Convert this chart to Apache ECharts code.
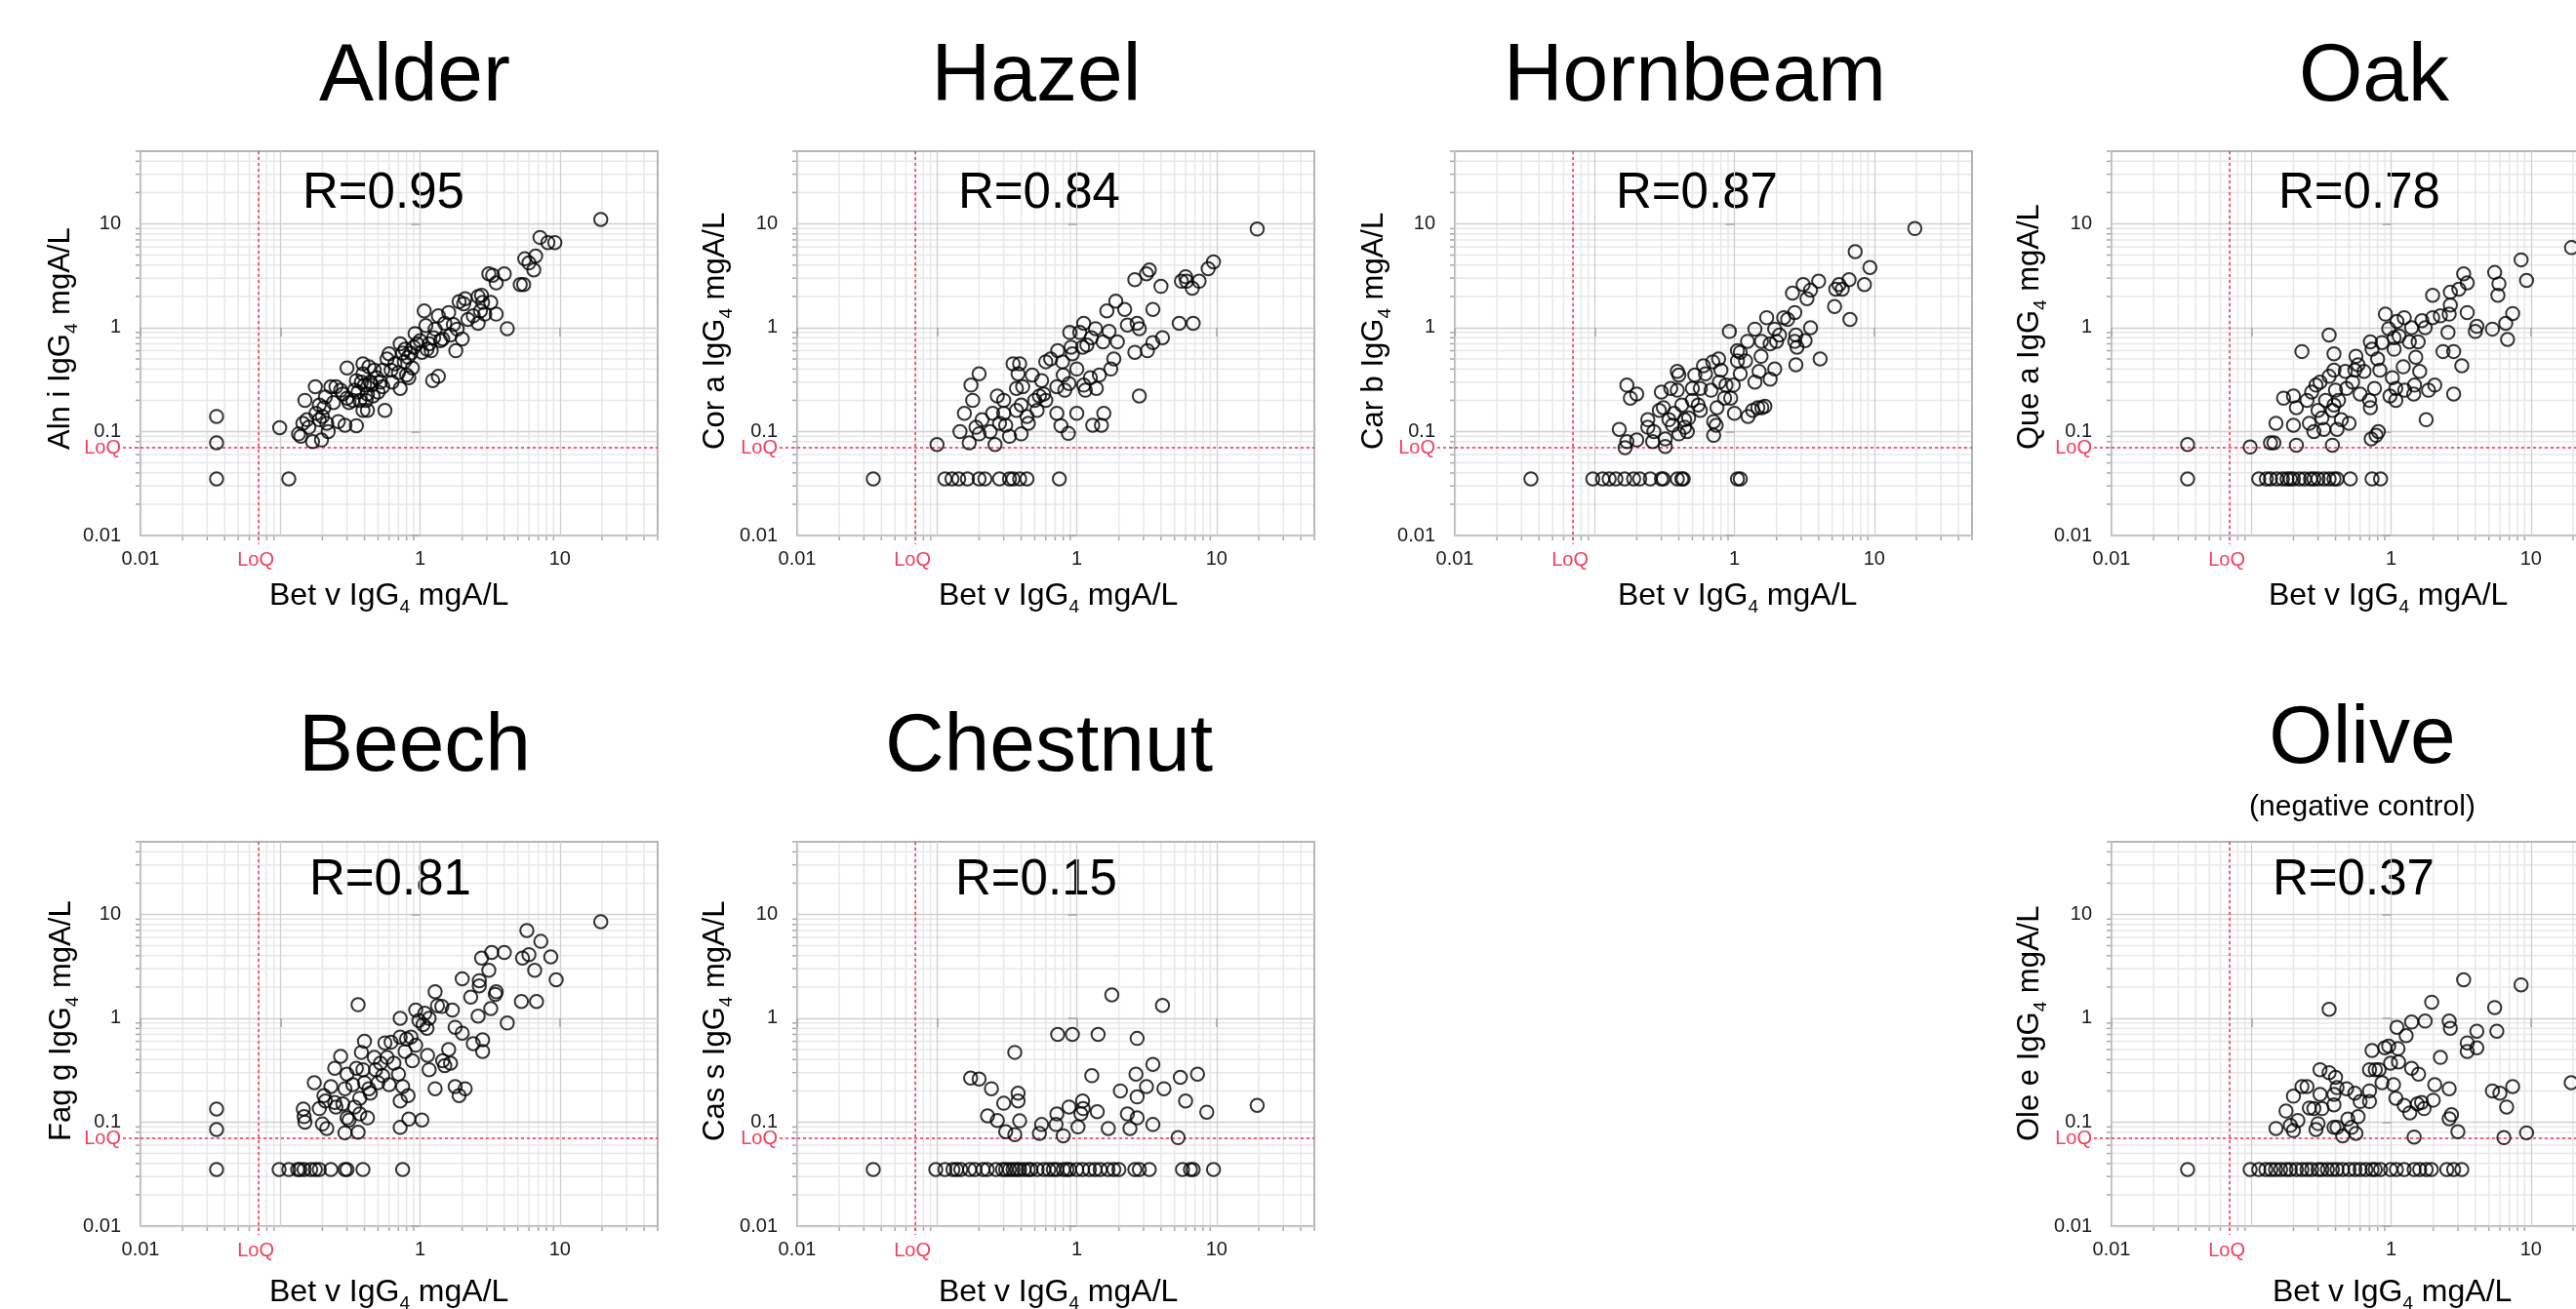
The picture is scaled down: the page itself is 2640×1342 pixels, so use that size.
<!DOCTYPE html>
<html>
<head>
<meta charset="utf-8">
<title>Bet v IgG4 vs other tree pollen IgG4</title>
<script src="https://cdn.jsdelivr.net/npm/echarts@6/dist/echarts.min.js"></script>
<style>
  html, body { margin: 0; padding: 0; background: #fff; }
  #chart { width: 2640px; height: 1342px; }
</style>
</head>
<body>
<div id="chart"></div>
<script>
// limit of quantification, values below it are plotted at 0.035
var LOQ = 0.07;
var AXIS_MIN = 0.01;
var AXIS_MAX = 50;
var tickValues = [0.01, 0.1, 1, 10];
var yTickLabels = ['0.01', '0.1', '1', '10'];
var xTickLabels = ['0.01', '', '1', '10'];   // 0.1 is left out next to LoQ on the x axis
var minorTicks = [0.02, 0.03, 0.04, 0.05, 0.06, 0.07, 0.08, 0.09,
  0.2, 0.3, 0.4, 0.5, 0.6, 0.7, 0.8, 0.9,
  2, 3, 4, 5, 6, 7, 8, 9, 20, 30, 40, 50];

var panelTitles = ['Alder', 'Hazel', 'Hornbeam', 'Oak', 'Beech', 'Chestnut', 'Olive'];
var allergens = ['Aln i', 'Cor a', 'Car b', 'Que a', 'Fag g', 'Cas s', 'Ole e'];
var rValues = ['0.95', '0.84', '0.87', '0.78', '0.81', '0.15', '0.37'];

// [Bet v, other] in mgA/L
var alder = [[0.035,0.14],[0.035,0.078],[0.035,0.035],[0.115,0.035],[0.099,0.109],
  [0.135,0.095],[0.14,0.09],[0.145,0.12],[0.15,0.2],[0.155,0.13],[0.16,0.11],[0.17,0.08],[0.178,0.27],
  [0.18,0.15],[0.19,0.13],[0.19,0.18],[0.197,0.083],[0.2,0.14],[0.205,0.17],[0.21,0.215],[0.215,0.12],
  [0.22,0.1],[0.23,0.27],[0.24,0.19],[0.25,0.27],[0.26,0.125],[0.27,0.25],[0.28,0.23],[0.29,0.115],
  [0.3,0.41],[0.3,0.21],[0.31,0.19],[0.33,0.2],[0.34,0.25],[0.35,0.114],[0.35,0.31],[0.36,0.24],
  [0.37,0.2],[0.38,0.3],[0.39,0.45],[0.39,0.36],[0.39,0.16],[0.4,0.28],[0.41,0.2],[0.42,0.23],
  [0.42,0.16],[0.43,0.42],[0.44,0.3],[0.45,0.28],[0.46,0.22],[0.47,0.39],[0.49,0.33],[0.5,0.24],
  [0.52,0.3],[0.54,0.39],[0.54,0.27],[0.56,0.16],[0.58,0.5],[0.6,0.56],[0.62,0.39],[0.63,0.3],
  [0.66,0.45],[0.7,0.37],[0.72,0.26],[0.72,0.7],[0.75,0.57],[0.77,0.47],[0.78,0.62],[0.8,0.35],
  [0.82,0.52],[0.83,0.33],[0.86,0.57],[0.88,0.41],[0.9,0.65],[0.92,0.88],[0.95,0.7],[1.0,0.75],
  [1.03,0.58],[1.07,1.45],[1.1,1.05],[1.12,0.62],[1.16,0.7],[1.2,0.6],[1.25,0.8],[1.28,0.97],
  [1.23,0.31],[1.35,0.34],[1.35,1.3],[1.4,0.75],[1.45,0.78],[1.5,1.1],[1.6,1.4],[1.65,0.85],
  [1.73,1.07],[1.8,0.6],[1.84,0.97],[1.9,1.78],[2.0,0.78],[2.05,1.7],[2.1,1.9],[2.2,1.2],[2.4,1.3],
  [2.6,2.0],[2.6,1.1],[2.7,1.45],[2.75,2.05],[2.8,1.75],[2.9,1.35],[3.2,1.75],[3.5,1.35],[3.1,3.3],
  [3.3,3.2],[3.5,2.7],[4.0,3.3],[4.2,0.98],[5.2,2.6],[5.5,2.6],[5.6,4.6],[6.0,4.2],[6.7,4.9],
  [6.5,3.6],[7.2,7.4],[8.2,6.6],[9.2,6.6],[19.6,11]];

var hazel = [[0.035,0.035],[0.1,0.075],
  [0.114,0.035],[0.128,0.035],[0.143,0.035],[0.165,0.035],[0.2,0.035],[0.22,0.035],[0.28,0.035],
  [0.33,0.035],[0.35,0.035],[0.39,0.035],[0.44,0.035],[0.75,0.035],
  [0.146,0.1],[0.157,0.15],[0.17,0.078],[0.18,0.2],[0.175,0.28],[0.19,0.11],[0.2,0.36],[0.2,0.095],
  [0.21,0.13],[0.24,0.1],[0.25,0.15],[0.26,0.075],[0.27,0.22],[0.28,0.12],[0.3,0.2],[0.3,0.15],
  [0.31,0.115],[0.33,0.09],[0.35,0.45],[0.39,0.45],[0.37,0.26],[0.37,0.16],[0.38,0.36],[0.4,0.18],
  [0.4,0.095],[0.41,0.27],[0.44,0.14],[0.45,0.12],[0.48,0.35],[0.5,0.2],[0.52,0.16],[0.54,0.22],
  [0.56,0.31],[0.58,0.23],[0.6,0.2],[0.6,0.47],[0.65,0.5],[0.72,0.15],[0.72,0.27],[0.73,0.6],
  [0.77,0.114],[0.79,0.47],[0.8,0.35],[0.82,0.25],[0.87,0.096],[0.88,0.29],[0.89,0.9],[0.91,0.65],
  [0.93,0.56],[1.0,0.4],[1.0,0.15],[1.05,0.9],[1.1,0.65],[1.12,1.1],[1.12,0.28],[1.15,0.25],
  [1.18,0.68],[1.25,0.33],[1.3,0.115],[1.27,0.8],[1.36,0.98],[1.38,0.26],[1.45,0.35],[1.5,0.115],
  [1.54,0.73],[1.56,0.15],[1.64,1.45],[1.7,0.92],[1.75,0.4],[1.84,0.5],[1.9,1.8],[1.95,0.73],
  [2.2,1.5],[2.3,1.06],[2.6,2.9],[2.6,0.58],[2.7,1.1],[2.8,0.98],[2.8,0.22],[3.15,3.3],[3.3,3.6],
  [3.2,0.6],[3.5,0.72],[3.5,1.5],[4.0,2.5],[4.1,0.8],[5.4,1.1],[5.6,2.8],[6.0,3.1],[6.1,2.8],
  [6.7,2.4],[6.8,1.1],[7.5,2.8],[8.7,3.7],[9.5,4.3],[19.5,8.9]];

var hornbeam = [[0.035,0.035],
  [0.097,0.035],[0.114,0.035],[0.127,0.035],[0.142,0.035],[0.164,0.035],[0.19,0.035],[0.21,0.035],
  [0.25,0.035],[0.3,0.035],[0.31,0.035],[0.39,0.035],[0.42,0.035],[0.43,0.035],[1.05,0.035],[1.1,0.035],
  [0.15,0.105],[0.165,0.07],[0.17,0.08],[0.17,0.28],[0.18,0.21],[0.2,0.23],[0.2,0.083],[0.24,0.13],
  [0.24,0.11],[0.26,0.08],[0.265,0.1],[0.29,0.16],[0.3,0.24],[0.31,0.17],[0.32,0.085],[0.32,0.072],
  [0.34,0.13],[0.35,0.26],[0.36,0.115],[0.37,0.15],[0.39,0.38],[0.39,0.25],[0.4,0.35],[0.4,0.095],
  [0.42,0.18],[0.44,0.11],[0.44,0.13],[0.46,0.1],[0.47,0.135],[0.5,0.26],[0.5,0.2],[0.52,0.35],
  [0.55,0.18],[0.57,0.16],[0.57,0.26],[0.6,0.43],[0.62,0.36],[0.68,0.25],[0.7,0.47],[0.71,0.125],
  [0.71,0.092],[0.74,0.115],[0.75,0.17],[0.77,0.5],[0.78,0.3],[0.8,0.39],[0.85,0.21],[0.87,0.28],
  [0.92,0.92],[0.94,0.21],[1.0,0.15],[0.98,0.28],[1.05,0.6],[1.05,0.48],[1.1,0.58],[1.1,0.36],
  [1.2,0.48],[1.24,0.74],[1.25,0.14],[1.35,0.16],[1.4,0.97],[1.4,0.3],[1.47,0.17],[1.5,0.38],
  [1.55,0.53],[1.56,0.74],[1.57,0.17],[1.65,0.175],[1.7,1.25],[1.8,0.32],[1.8,0.7],[1.94,0.97],
  [1.94,0.4],[2.0,0.74],[2.1,0.85],[2.25,1.25],[2.4,1.2],[2.6,2.15],[2.7,1.4],[2.7,0.74],[2.75,0.44],
  [2.8,0.65],[2.75,0.85],[3.1,2.6],[3.2,0.75],[3.3,1.9],[3.5,2.3],[3.5,1.0],[4.0,2.8],[4.1,0.5],
  [5.2,1.6],[5.3,2.35],[5.6,2.6],[5.9,2.35],[6.6,2.9],[6.7,1.2],[7.3,5.4],[8.5,2.6],[9.3,3.8],[19.5,9]];

var oak = [[0.035,0.075],[0.035,0.035],[0.098,0.071],
  [0.113,0.035],[0.128,0.035],[0.137,0.035],[0.152,0.035],[0.167,0.035],[0.18,0.035],[0.19,0.035],
  [0.2,0.035],[0.22,0.035],[0.24,0.035],[0.265,0.035],[0.28,0.035],[0.3,0.035],[0.33,0.035],
  [0.36,0.035],[0.39,0.035],[0.41,0.035],[0.51,0.035],[0.73,0.035],[0.84,0.035],
  [0.137,0.078],[0.145,0.078],[0.15,0.12],[0.17,0.21],[0.2,0.115],[0.2,0.22],[0.21,0.17],[0.21,0.074],
  [0.23,0.59],[0.25,0.2],[0.26,0.12],[0.27,0.24],[0.28,0.1],[0.29,0.28],[0.3,0.16],[0.31,0.3],
  [0.32,0.135],[0.33,0.105],[0.34,0.2],[0.36,0.34],[0.36,0.85],[0.38,0.074],[0.38,0.16],[0.39,0.56],
  [0.39,0.39],[0.39,0.18],[0.4,0.25],[0.41,0.105],[0.42,0.2],[0.44,0.13],[0.47,0.38],[0.48,0.26],
  [0.5,0.12],[0.53,0.3],[0.55,0.39],[0.56,0.53],[0.58,0.44],[0.6,0.23],[0.64,0.38],[0.7,0.2],
  [0.71,0.17],[0.71,0.73],[0.73,0.62],[0.72,0.085],[0.76,0.26],[0.78,0.092],[0.8,0.5],[0.81,0.1],
  [0.83,0.39],[0.86,0.72],[0.91,1.35],[0.96,0.98],[0.98,0.22],[1.02,0.33],[1.05,0.62],[1.05,0.8],
  [1.08,0.2],[1.1,1.15],[1.08,0.26],[1.14,0.83],[1.22,0.42],[1.24,1.25],[1.25,0.25],[1.35,0.73],
  [1.4,1.0],[1.45,0.23],[1.47,0.28],[1.5,0.52],[1.56,0.73],[1.6,0.38],[1.66,1.17],[1.78,0.13],
  [1.75,1.0],[1.85,0.25],[1.98,2.05],[1.98,1.25],[2.05,0.28],[2.25,1.3],[2.35,0.59],[2.55,0.9],
  [2.6,1.35],[2.65,1.65],[2.65,2.2],[2.8,0.59],[2.8,0.23],[3.05,2.35],[3.2,0.43],[3.3,3.3],[3.5,2.7],
  [3.5,1.4],[4.0,0.92],[4.1,1.03],[5.3,0.97],[5.5,3.4],[5.9,2.65],[5.8,2.05],[6.6,1.1],[6.8,0.77],
  [7.4,1.37],[8.5,4.5],[9.3,2.85],[19.5,5.9]];

var beech = [[0.035,0.134],[0.035,0.085],[0.035,0.035],
  [0.098,0.035],[0.115,0.035],[0.133,0.035],[0.138,0.035],[0.148,0.035],[0.165,0.035],[0.178,0.035],
  [0.19,0.035],[0.23,0.035],[0.29,0.035],[0.3,0.035],[0.39,0.035],[0.75,0.035],
  [0.146,0.134],[0.148,0.113],[0.15,0.1],[0.175,0.24],[0.19,0.135],[0.2,0.096],[0.205,0.18],
  [0.215,0.087],[0.21,0.16],[0.23,0.22],[0.245,0.155],[0.25,0.14],[0.245,0.33],[0.27,0.43],[0.28,0.15],
  [0.29,0.079],[0.29,0.21],[0.3,0.29],[0.3,0.11],[0.31,0.105],[0.33,0.23],[0.34,0.14],[0.35,0.33],
  [0.36,1.35],[0.36,0.08],[0.37,0.12],[0.37,0.17],[0.38,0.47],[0.4,0.6],[0.39,0.32],[0.4,0.24],
  [0.42,0.11],[0.43,0.21],[0.44,0.19],[0.47,0.42],[0.48,0.32],[0.5,0.24],[0.52,0.37],[0.54,0.28],
  [0.56,0.58],[0.58,0.42],[0.6,0.23],[0.62,0.59],[0.65,0.37],[0.7,0.29],[0.72,1.0],[0.72,0.66],
  [0.72,0.16],[0.72,0.089],[0.75,0.22],[0.78,0.48],[0.8,0.63],[0.82,0.18],[0.83,0.107],[0.86,0.66],
  [0.88,0.39],[0.93,0.55],[0.93,1.2],[0.98,0.95],[1.03,0.105],[1.05,0.87],[1.08,1.12],[1.12,0.8],
  [1.16,0.32],[1.13,0.44],[1.16,1.0],[1.28,0.21],[1.28,1.8],[1.33,1.32],[1.43,1.3],[1.45,0.39],
  [1.5,0.35],[1.6,0.5],[1.65,0.37],[1.7,1.2],[1.78,0.82],[1.78,0.22],[1.9,0.18],[2.0,2.4],[2.0,0.72],
  [2.1,0.21],[2.3,1.6],[2.4,0.57],[2.6,1.05],[2.65,2.3],[2.65,2.05],[2.75,3.8],[2.8,0.62],[2.8,0.48],
  [3.1,2.9],[3.2,1.24],[3.25,4.3],[3.45,1.7],[3.5,1.8],[4.0,4.3],[4.2,0.9],[5.3,1.45],[5.4,3.8],
  [5.8,7.0],[6.0,4.1],[6.6,2.9],[6.8,1.45],[7.3,5.5],[8.6,3.9],[9.4,2.35],[19.6,8.5]];

var chestnut = [[0.035,0.035],
  [0.098,0.035],[0.114,0.035],[0.13,0.035],[0.138,0.035],[0.148,0.035],[0.171,0.035],[0.187,0.035],
  [0.213,0.035],[0.229,0.035],[0.264,0.035],[0.294,0.035],[0.31,0.035],[0.33,0.035],[0.35,0.035],
  [0.37,0.035],[0.39,0.035],[0.42,0.035],[0.45,0.035],[0.47,0.035],[0.52,0.035],[0.58,0.035],
  [0.63,0.035],[0.68,0.035],[0.72,0.035],[0.8,0.035],[0.85,0.035],[0.89,0.035],[1.0,0.035],
  [1.1,0.035],[1.23,0.035],[1.35,0.035],[1.47,0.035],[1.67,0.035],[1.84,0.035],[2.0,0.035],
  [2.6,0.035],[2.8,0.035],[3.3,0.035],[5.7,0.035],[6.5,0.035],[6.8,0.035],[9.5,0.035],
  [0.174,0.266],[0.2,0.26],[0.245,0.21],[0.3,0.152],[0.23,0.115],[0.27,0.104],[0.31,0.081],
  [0.36,0.47],[0.36,0.076],[0.38,0.19],[0.38,0.16],[0.39,0.103],[0.54,0.078],[0.56,0.095],
  [0.72,0.12],[0.71,0.095],[0.73,0.7],[0.8,0.074],[0.88,0.14],[0.93,0.7],[1.02,0.09],[1.07,0.12],
  [1.1,0.16],[1.11,0.135],[1.28,0.28],[1.4,0.126],[1.42,0.7],[1.68,0.087],[1.78,1.68],[2.05,0.2],
  [2.3,0.12],[2.4,0.087],[2.65,0.29],[2.7,0.64],[2.7,0.175],[2.7,0.11],[3.15,0.22],[3.5,0.095],
  [3.5,0.36],[4.1,1.33],[4.2,0.21],[5.3,0.071],[5.5,0.27],[6.0,0.16],[7.3,0.29],[8.5,0.125],[19.5,0.145]];

var olive = [[0.035,0.035],
  [0.098,0.035],[0.113,0.035],[0.127,0.035],[0.138,0.035],[0.149,0.035],[0.162,0.035],[0.177,0.035],
  [0.19,0.035],[0.21,0.035],[0.23,0.035],[0.25,0.035],[0.27,0.035],[0.3,0.035],[0.32,0.035],
  [0.35,0.035],[0.38,0.035],[0.41,0.035],[0.45,0.035],[0.5,0.035],[0.55,0.035],[0.6,0.035],
  [0.66,0.035],[0.73,0.035],[0.77,0.035],[0.84,0.035],[0.99,0.035],[1.09,0.035],[1.24,0.035],
  [1.46,0.035],[1.6,0.035],[1.78,0.035],[1.94,0.035],[2.5,0.035],[2.8,0.035],[3.2,0.035],
  [0.15,0.087],[0.177,0.128],[0.19,0.093],[0.2,0.083],[0.2,0.178],[0.215,0.104],[0.23,0.22],
  [0.25,0.22],[0.26,0.137],[0.28,0.135],[0.29,0.085],[0.3,0.097],[0.31,0.32],[0.31,0.185],
  [0.32,0.135],[0.36,0.3],[0.36,1.22],[0.39,0.089],[0.39,0.147],[0.39,0.185],[0.4,0.27],[0.41,0.215],
  [0.41,0.089],[0.45,0.074],[0.48,0.21],[0.49,0.107],[0.52,0.089],[0.55,0.19],[0.58,0.113],
  [0.56,0.078],[0.6,0.158],[0.7,0.158],[0.7,0.2],[0.7,0.32],[0.73,0.49],[0.77,0.32],[0.82,0.32],
  [0.86,0.24],[0.9,0.52],[0.96,0.54],[0.99,0.37],[1.04,0.23],[1.08,0.17],[1.1,0.82],[1.12,0.51],
  [1.13,0.38],[1.28,0.68],[1.24,0.145],[1.36,0.123],[1.4,0.33],[1.4,0.92],[1.46,0.072],[1.54,0.15],
  [1.57,0.29],[1.65,0.155],[1.72,0.135],[1.75,0.94],[1.95,1.43],[2.0,0.163],[2.05,0.23],[2.25,0.42],
  [2.6,0.21],[2.6,0.108],[2.6,0.94],[2.65,0.8],[2.7,0.118],[3.0,0.081],[3.3,2.35],[3.5,0.58],
  [3.5,0.48],[4.1,0.75],[4.1,0.52],[5.3,0.2],[5.5,1.27],[5.7,0.75],[6.0,0.19],[6.4,0.071],[6.7,0.14],
  [7.4,0.22],[8.5,2.1],[9.3,0.079],[19.4,0.24]];

var panelData = [alder, hazel, hornbeam, oak, beech, chestnut, olive];

// where each panel and its texts sit on the page
var layout = [
  {left: 144,  top: 155, titleX: 425,  titleY: 80,  rX: 310,  rY: 199, xNameX: 276,  xNameY: 611,  yNameX: 62,   yNameY: 461},
  {left: 817,  top: 155, titleX: 1062, titleY: 80,  rX: 982,  rY: 199, xNameX: 962,  xNameY: 611,  yNameX: 733,  yNameY: 461},
  {left: 1491, top: 155, titleX: 1737, titleY: 80,  rX: 1656, rY: 199, xNameX: 1658, xNameY: 611,  yNameX: 1408, yNameY: 461},
  {left: 2164, top: 155, titleX: 2433, titleY: 80,  rX: 2335, rY: 199, xNameX: 2325, xNameY: 611,  yNameX: 2080, yNameY: 461},
  {left: 144,  top: 863, titleX: 425,  titleY: 767, rX: 317,  rY: 903, xNameX: 276,  xNameY: 1325, yNameX: 63,   yNameY: 1170},
  {left: 817,  top: 863, titleX: 1075, titleY: 767, rX: 979,  rY: 903, xNameX: 962,  xNameY: 1325, yNameX: 733,  yNameY: 1170},
  {left: 2164, top: 863, titleX: 2421, titleY: 759, rX: 2329, rY: 903, xNameX: 2329, xNameY: 1325, yNameX: 2080, yNameY: 1170}
];
var PLOT_W = 530, PLOT_H = 394;

var FONT = '"Liberation Sans", Arial, Helvetica, sans-serif';
var RED = '#f2405e';
var TICK_FONT = 20;
var subRich = {s: {fontSize: 19, fontFamily: FONT, lineHeight: 42, verticalAlign: 'bottom'}};

var chart = echarts.init(document.getElementById('chart'));

function lg(v) {
  return Math.log10(v);
}

function labelFor(labels) {
  return function (v) {
    for (var i = 0; i < tickValues.length; i++) {
      if (Math.abs(lg(tickValues[i]) - v) < 1e-6) return labels[i];
    }
    return '';
  };
}

function makeAxis(i, isY) {
  return {
    type: 'value',
    gridIndex: i,
    min: lg(AXIS_MIN),
    max: lg(AXIS_MAX),
    interval: 1,
    axisLine: {show: false},
    axisTick: {
      show: true, length: 9, customValues: tickValues.map(lg),
      lineStyle: {color: '#a8a8a8', width: 1.6}
    },
    axisLabel: {
      formatter: labelFor(isY ? yTickLabels : xTickLabels), customValues: tickValues.map(lg),
      fontSize: TICK_FONT, fontFamily: FONT, color: '#1a1a1a',
      margin: isY ? 20 : 14
    },
    splitLine: {show: true, lineStyle: {color: '#d0d0d0', width: 1.3}}
  };
}

// light grid lines and short ticks at 2..9 of each decade
function renderMinor(params, api) {
  var v = api.value(0);
  var r = params.coordSys;
  var px = api.coord([v, lg(AXIS_MIN)])[0];
  var py = api.coord([lg(AXIS_MIN), v])[1];
  var bottom = r.y + r.height;
  var light = {stroke: '#e8e8e8', lineWidth: 1.5};
  var tick = {stroke: '#a8a8a8', lineWidth: 1.5};
  return {
    type: 'group',
    children: [
      {type: 'line', shape: {x1: px, y1: r.y, x2: px, y2: bottom}, style: light},
      {type: 'line', shape: {x1: r.x, y1: py, x2: r.x + r.width, y2: py}, style: light},
      {type: 'line', shape: {x1: px, y1: bottom, x2: px, y2: bottom + 5}, style: tick},
      {type: 'line', shape: {x1: r.x - 5, y1: py, x2: r.x, y2: py}, style: tick}
    ]
  };
}

// dotted LoQ lines with their red labels
function renderLoq(params, api) {
  var r = params.coordSys;
  var p = api.coord([api.value(0), api.value(1)]);
  var dash = {stroke: RED, lineWidth: 1.6, lineDash: [3, 3]};
  var labelStyle = {text: 'LoQ', fill: RED, font: TICK_FONT + 'px ' + FONT};
  return {
    type: 'group',
    children: [
      {type: 'line', shape: {x1: p[0], y1: r.y, x2: p[0], y2: r.y + r.height + 9}, style: dash},
      {type: 'line', shape: {x1: r.x - 18, y1: p[1], x2: r.x + r.width, y2: p[1]}, style: dash},
      {type: 'text', x: p[0] - 3, y: r.y + r.height + 25,
        style: Object.assign({align: 'center', verticalAlign: 'middle', textAlign: 'center', textVerticalAlign: 'middle'}, labelStyle)},
      {type: 'text', x: r.x - 20, y: p[1] + 1,
        style: Object.assign({align: 'right', verticalAlign: 'middle', textAlign: 'right', textVerticalAlign: 'middle'}, labelStyle)}
    ]
  };
}

var grids = [], xAxes = [], yAxes = [], series = [], texts = [];

panelData.forEach(function (points, i) {
  var pos = layout[i];
  grids.push({
    left: pos.left, top: pos.top, width: PLOT_W, height: PLOT_H,
    show: true, borderColor: '#b5b5b5', borderWidth: 2,
    containLabel: false, outerBoundsMode: 'none'
  });
  xAxes.push(makeAxis(i, false));
  yAxes.push(makeAxis(i, true));

  series.push({
    type: 'custom', xAxisIndex: i, yAxisIndex: i, z: -1, silent: true,
    renderItem: renderMinor,
    data: minorTicks.map(function (v) { return [lg(v), lg(v)]; })
  });
  series.push({
    type: 'custom', xAxisIndex: i, yAxisIndex: i, z: 1, silent: true,
    renderItem: renderLoq,
    data: [[lg(LOQ), lg(LOQ)]]
  });
  series.push({
    name: panelTitles[i],
    type: 'scatter', xAxisIndex: i, yAxisIndex: i, z: 3,
    symbol: 'circle', symbolSize: 13.5,
    itemStyle: {color: 'rgba(0,0,0,0)', borderColor: '#000', borderWidth: 2},
    data: points.map(function (d) { return [lg(d[0]), lg(d[1])]; })
  });

  texts.push({
    type: 'text', x: pos.titleX, y: pos.titleY,
    style: {text: panelTitles[i], fill: '#000', font: '84px ' + FONT,
      align: 'center', verticalAlign: 'middle', textAlign: 'center', textVerticalAlign: 'middle'}
  });
  texts.push({
    type: 'text', x: pos.rX, y: pos.rY,
    style: {text: 'R=' + rValues[i], fill: '#000', font: '51px ' + FONT,
      align: 'left', verticalAlign: 'middle', textAlign: 'left', textVerticalAlign: 'middle'}
  });
  texts.push({
    type: 'text', x: pos.xNameX, y: pos.xNameY,
    style: {text: 'Bet v IgG{s|4} mgA/L', rich: subRich, fill: '#000', fontSize: 32, fontFamily: FONT,
      align: 'left', verticalAlign: 'middle', textAlign: 'left', textVerticalAlign: 'middle'}
  });
  texts.push({
    type: 'text', x: pos.yNameX, y: pos.yNameY, rotation: Math.PI / 2,
    style: {text: allergens[i] + ' IgG{s|4} mgA/L', rich: subRich, fill: '#000', fontSize: 31, fontFamily: FONT,
      align: 'left', verticalAlign: 'middle', textAlign: 'left', textVerticalAlign: 'middle'}
  });
});

texts.push({
  type: 'text', x: 2421, y: 828,
  style: {text: '(negative control)', fill: '#000', font: '30px ' + FONT,
    align: 'center', verticalAlign: 'middle', textAlign: 'center', textVerticalAlign: 'middle'}
});

chart.setOption({
  backgroundColor: '#fff',
  animation: false,
  grid: grids,
  xAxis: xAxes,
  yAxis: yAxes,
  series: series,
  graphic: texts
});
</script>
</body>
</html>
